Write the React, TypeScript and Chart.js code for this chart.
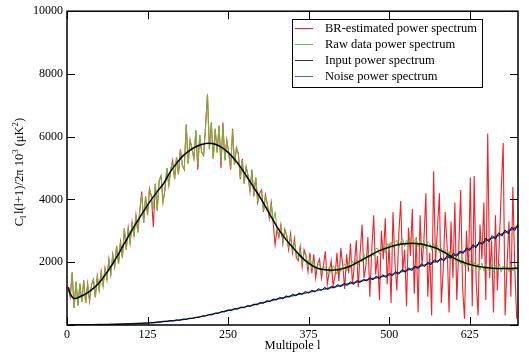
import React, { useEffect, useRef } from 'react';
import { Chart, registerables } from 'chart.js';

Chart.register(...registerables);

// Multipole grid of the noisy spectra: l = L_START + i * L_STEP
const L_START = 2;
const L_STEP = 3;

// Raw data power spectrum (green)
const RAW_DATA = [
  1180, 900, 1640, 560, 1380, 620, 1300, 740, 1420, 700,
  1320, 760, 1280, 1450, 900, 1560, 1100, 1700, 1250, 1820,
  1450, 2100, 1600, 2250, 1850, 2500, 1950, 2650, 2150, 3050,
  2400, 3100, 2600, 3250, 2850, 3500, 2950, 3650, 4150, 3250,
  4100, 3500, 4350, 4100, 3700, 4500, 3650, 4600, 4750, 3900,
  4300, 5000, 4450, 4950, 5200, 4650, 5350, 4800, 5600, 5100,
  4950, 6350, 5150, 5900, 5600, 5300, 6200, 5100, 6050, 5500,
  5400, 6300, 7350, 5600, 6400, 5300, 6250, 5500, 6350, 5200,
  6300, 5250, 5900, 5500, 5000, 6200, 5100, 5650, 5450, 4700,
  5250, 4550, 5050, 4750, 4300, 4900, 4150, 4700, 3950, 4200,
  4250, 3650, 4100, 3850, 3450, 3850, 3300, 3600, 3050, 2850,
  3150, 2650, 3000, 2850, 2450, 2800, 2350, 2650, 2250, 2150,
  2400, 1950, 2300, 2200, 1850, 2150, 1800, 2050, 1750, 1900,
  1950, 1650, 1900, 1800, 1620, 1850, 1650, 1900, 1780, 1620,
  1900, 1700, 1880, 1950, 1720, 2000, 1800, 2050, 1850, 2100,
  1900, 2150, 2000, 2250, 2050, 2300, 2150, 2350, 2200, 2420,
  2450, 2250, 2500, 2550, 2300, 2600, 2400, 2650, 2450, 2620,
  2700, 2450, 2650, 2750, 2500, 2700, 2550, 2780, 2500, 2700,
  2750, 2500, 2700, 2450, 2680, 2420, 2650, 2600, 2380, 2600,
  2350, 2550, 2300, 2450, 2250, 2400, 2150, 2350, 2100, 2250,
  2250, 1980, 2150, 1950, 2120, 1880, 2080, 1850, 2050, 1800,
  2000, 1780, 1950, 1750, 1980, 1720, 1950, 1800, 1700, 1920,
  1700, 1900, 1720, 1950, 1680, 1880, 1760, 1930, 1700, 1870,
  1720, 1900, 1760,
];

// BR-estimated power spectrum (red)
const BR_ESTIMATED = [
  1180, 900, 1680, 540, 1380, 620, 1320, 740, 1420, 700,
  1320, 760, 1280, 1450, 880, 1560, 1100, 1720, 1250, 1820,
  1450, 2100, 1600, 2250, 1850, 2520, 1950, 2650, 2150, 3080,
  2400, 3100, 2600, 3280, 2850, 3500, 2950, 3650, 4250, 3250,
  4100, 3500, 4350, 4100, 3120, 4500, 3650, 4600, 4750, 3900,
  4300, 5000, 4450, 4950, 5250, 4650, 5350, 4800, 5600, 5100,
  4950, 6400, 5150, 5900, 5600, 5300, 6200, 4950, 6050, 5500,
  5400, 6300, 7350, 5600, 6450, 5300, 6250, 5500, 6350, 5000,
  6450, 5250, 5900, 5500, 4950, 6250, 5100, 5650, 5450, 4650,
  5300, 4500, 5050, 4750, 4250, 4950, 4100, 4700, 3900, 4200,
  4300, 3600, 4150, 3850, 3400, 3900, 3250, 2550, 3050, 2800,
  3200, 2600, 3050, 2850, 2400, 2900, 2300, 2750, 2150, 2050,
  2500, 1850, 2400, 2200, 1700, 2300, 1650, 2250, 1500, 1950,
  2100, 1500, 1900, 2350, 1300, 1700, 2050, 1250, 1550, 2300,
  1400, 2450, 1900, 1150, 2250, 1650, 2600, 1300, 1900, 2700,
  1200, 2300, 3200, 1500, 1900, 2800, 900, 2400, 3500, 1600,
  2200, 800, 3000, 2100, 3400, 1300, 2600, 700, 3600, 2000,
  1100, 2900, 3950, 1700, 2400, 600, 3100, 2200, 3700, 1000,
  2800, 400, 3500, 1900, 2700, 4200, 900, 2300, 300, 4900,
  2000, 3100, 4200, 700, 1800, 3600, 2500, 400, 3300, 1500,
  3900, 800, 2400, 4300, 1200, 200, 3000, 1700, 4700, 600,
  4750, 1400, 300, 3200, 2100, 3900, 800, 6100, 1500, 2700,
  400, 3500, 1100, 2600, 4300, 5800, 300, 1900, 3300, 900,
  4400, 1800, 200,
];

// Input power spectrum (black, smooth)
const INPUT_L = [
  2, 5, 10, 15, 20, 30, 40, 50, 60, 70, 80, 90, 100, 110, 120, 130, 140, 150, 160, 170,
  180, 190, 200, 210, 220, 230, 240, 250, 260, 270, 280, 290, 300, 310, 320, 330, 340,
  350, 360, 370, 380, 390, 400, 410, 420, 430, 440, 450, 460, 470, 480, 490, 500, 510,
  520, 530, 540, 550, 560, 570, 580, 590, 600, 610, 620, 630, 640, 650, 660, 670, 680,
  690, 700,
];
const INPUT_C = [
  1206, 1000, 850, 855, 900, 1000, 1150, 1350, 1620, 1920, 2270, 2630, 2990, 3330, 3660,
  3970, 4250, 4510, 4870, 5150, 5390, 5560, 5680, 5760, 5790, 5760, 5660, 5500, 5280,
  5010, 4700, 4380, 4060, 3700, 3340, 3000, 2720, 2480, 2250, 2050, 1900, 1800, 1760,
  1745, 1760, 1810, 1880, 1990, 2100, 2210, 2320, 2410, 2480, 2540, 2580, 2600, 2600,
  2580, 2530, 2470, 2380, 2260, 2140, 2040, 1960, 1900, 1860, 1830, 1810, 1800, 1800,
  1800, 1810,
];

// Noise power spectrum (blue, smooth)
const NOISE_L = [
  0, 25, 50, 75, 100, 125, 150, 175, 200, 225, 250, 275, 300, 325, 350, 375, 400, 425,
  450, 475, 500, 525, 550, 575, 600, 625, 650, 675, 700,
];
const NOISE_C = [
  0, 4, 12, 25, 40, 60, 110, 160, 235, 340, 460, 570, 690, 820, 930, 1040, 1150, 1260,
  1370, 1480, 1590, 1730, 1880, 2040, 2210, 2430, 2680, 2900, 3140,
];

// Noise realisation (black, noisy, not in legend): l = NREAL_START + i * NREAL_STEP
const NREAL_START = 5;
const NREAL_STEP = 5;
const NOISE_REAL = [
  1, 3, 2, 4, 5, 7, 6, 10, 9, 14, 14, 19, 18, 24, 23, 30, 29, 36, 35, 42,
  42, 50, 49, 58, 57, 75, 72, 95, 92, 115, 112, 138, 130, 160, 150, 190, 178, 215, 210, 245,
  245, 290, 285, 335, 325, 380, 370, 430, 420, 480, 460, 520, 505, 575, 550, 620, 590, 665, 640, 720,
  690, 770, 745, 830, 800, 880, 835, 930, 890, 980, 930, 1020, 975, 1070, 1020, 1110, 1050, 1160, 1100, 1200,
  1130, 1230, 1180, 1290, 1220, 1330, 1260, 1380, 1300, 1420, 1350, 1460, 1400, 1510, 1440, 1560, 1470, 1600, 1520, 1650,
  1570, 1700, 1620, 1770, 1680, 1820, 1730, 1880, 1800, 1950, 1860, 2000, 1920, 2080, 1990, 2140, 2040, 2210, 2120, 2290,
  2190, 2360, 2280, 2460, 2370, 2560, 2460, 2650, 2560, 2770, 2650, 2850, 2740, 2940, 2830, 3030, 2900, 3120, 3010, 3220,
];

const X_TICKS = [0, 125, 250, 375, 500, 625];
const Y_TICKS = [0, 2000, 4000, 6000, 8000, 10000];

const LEGEND_LABELS = [
  'BR-estimated power spectrum',
  'Raw data power spectrum',
  'Input power spectrum',
  'Noise power spectrum',
];

const SERIF = "'Liberation Serif', 'Times New Roman', Times, serif";

const COLORS = {
  br: '#f0222a',
  raw: '#6cbb3c',
  input: '#000000',
  noise: '#2c4ca8',
};

const gridPoints = (vals: number[], start: number, step: number) =>
  vals.map((v, i) => ({ x: start + i * step, y: v }));
const pairPoints = (xs: number[], ys: number[]) => xs.map((x, i) => ({ x, y: ys[i] }));

const framePlugin = {
  id: 'framePlugin',
  afterDraw(chart: any) {
    const { ctx, chartArea, scales } = chart;
    const { left, right, top, bottom } = chartArea;
    ctx.save();
    ctx.strokeStyle = '#000';
    ctx.lineWidth = 1;
    // inward ticks
    const tl = 8;
    ctx.beginPath();
    X_TICKS.forEach((v) => {
      const px = Math.round(scales.x.getPixelForValue(v)) + 0.5;
      ctx.moveTo(px, bottom);
      ctx.lineTo(px, bottom - tl);
      ctx.moveTo(px, top);
      ctx.lineTo(px, top + tl);
    });
    Y_TICKS.forEach((v) => {
      const py = Math.round(scales.y.getPixelForValue(v)) + 0.5;
      ctx.moveTo(left, py);
      ctx.lineTo(left + tl, py);
      ctx.moveTo(right, py);
      ctx.lineTo(right - tl, py);
    });
    ctx.stroke();
    // frame
    ctx.lineWidth = 1.5;
    ctx.strokeRect(left, top, right - left, bottom - top);

    // legend
    const lx = 292.5, ly = 19.5, lw = 190, lh = 68;
    ctx.fillStyle = '#fff';
    ctx.fillRect(lx, ly, lw, lh);
    ctx.lineWidth = 1;
    ctx.strokeStyle = '#000';
    ctx.strokeRect(lx, ly, lw, lh);
    const legendColors = [COLORS.br, COLORS.raw, '#333333', '#4a6cc8'];
    ctx.font = `12.5px ${SERIF}`;
    ctx.textBaseline = 'middle';
    ctx.textAlign = 'left';
    LEGEND_LABELS.forEach((lab, i) => {
      const y = 28 + i * 16;
      ctx.strokeStyle = legendColors[i];
      ctx.lineWidth = 1;
      ctx.beginPath();
      ctx.moveTo(295, y + 0.5);
      ctx.lineTo(313, y + 0.5);
      ctx.stroke();
      ctx.fillStyle = '#000';
      ctx.fillText(lab, 325, y + 0.5);
    });

    // x title
    ctx.font = `12.5px ${SERIF}`;
    ctx.textAlign = 'center';
    ctx.textBaseline = 'middle';
    ctx.fillStyle = '#000';
    ctx.fillText('Multipole l', (left + right) / 2, 346);

    // y title with sub/superscripts
    const base = 12.5;
    const parts = [
      { t: 'C', k: 0 },
      { t: 'l', k: 1 },
      { t: 'l(l+1)/2\u03C0 10', k: 0 },
      { t: '3', k: 2 },
      { t: ' (\u03BCK', k: 0 },
      { t: '2', k: 2 },
      { t: ')', k: 0 },
    ];
    const fontFor = (k: number) => `${k === 0 ? base : base * 0.7}px ${SERIF}`;
    let total = 0;
    parts.forEach((p) => {
      ctx.font = fontFor(p.k);
      total += ctx.measureText(p.t).width + (p.k === 1 ? 1.5 : 0);
    });
    ctx.translate(19, (top + bottom) / 2 + 4);
    ctx.rotate(-Math.PI / 2);
    ctx.textAlign = 'left';
    ctx.textBaseline = 'alphabetic';
    let cx = -total / 2;
    parts.forEach((p) => {
      ctx.font = fontFor(p.k);
      const dy = p.k === 1 ? 3 : p.k === 2 ? -5 : 0;
      ctx.fillText(p.t, cx, 4 + dy);
      cx += ctx.measureText(p.t).width + (p.k === 1 ? 1.5 : 0);
    });
    ctx.restore();
  },
};

export default function App() {
  const ref = useRef<HTMLCanvasElement | null>(null);

  useEffect(() => {
    document.body.style.margin = '0';
    const canvas = ref.current;
    if (!canvas) return;
    const chart = new Chart(canvas, {
      type: 'line',
      data: {
        datasets: [
          {
            label: 'Input power spectrum',
            data: pairPoints(INPUT_L, INPUT_C),
            borderColor: COLORS.input,
            borderWidth: 1.5,
            tension: 0.4,
            pointRadius: 0,
            order: 0,
          },
          {
            label: '',
            data: gridPoints(NOISE_REAL, NREAL_START, NREAL_STEP),
            borderColor: '#000000',
            borderWidth: 1,
            tension: 0,
            pointRadius: 0,
            order: 1,
          },
          {
            label: 'Noise power spectrum',
            data: pairPoints(NOISE_L, NOISE_C),
            borderColor: COLORS.noise,
            borderWidth: 1.5,
            tension: 0.4,
            pointRadius: 0,
            order: 2,
          },
          {
            label: 'Raw data power spectrum',
            data: gridPoints(RAW_DATA, L_START, L_STEP),
            borderColor: COLORS.raw,
            borderWidth: 1,
            tension: 0,
            pointRadius: 0,
            order: 3,
          },
          {
            label: 'BR-estimated power spectrum',
            data: gridPoints(BR_ESTIMATED, L_START, L_STEP),
            borderColor: COLORS.br,
            borderWidth: 1.1,
            tension: 0,
            pointRadius: 0,
            order: 4,
          },
        ],
      },
      options: {
        responsive: false,
        animation: false,
        events: [],
        layout: { padding: { left: 0, right: 11, top: 10, bottom: 0 } },
        plugins: {
          legend: { display: false },
          tooltip: { enabled: false },
          title: { display: false },
        },
        scales: {
          x: {
            type: 'linear',
            min: 0,
            max: 700,
            grid: { display: false, drawTicks: false },
            border: { display: false },
            afterBuildTicks: (s: any) => {
              s.ticks = X_TICKS.map((v) => ({ value: v }));
            },
            afterFit: (s: any) => {
              s.height = 28;
            },
            ticks: {
              padding: 3,
              maxRotation: 0,
              autoSkip: false,
              color: '#000',
              font: { family: SERIF, size: 12 },
              callback: (v: any) => String(v),
            },
          },
          y: {
            type: 'linear',
            min: 0,
            max: 10000,
            grid: { display: false, drawTicks: false },
            border: { display: false },
            afterBuildTicks: (s: any) => {
              s.ticks = Y_TICKS.map((v) => ({ value: v }));
            },
            afterFit: (s: any) => {
              s.width = 67;
            },
            ticks: {
              padding: 4,
              autoSkip: false,
              color: '#000',
              font: { family: SERIF, size: 12 },
              callback: (v: any) => (v === 0 ? '' : String(v)),
            },
          },
        },
      },
      plugins: [framePlugin],
    } as any);
    return () => chart.destroy();
  }, []);

  return (
    <div style={{ width: 529, height: 353, background: '#fff' }}>
      <canvas ref={ref} width={529} height={353} style={{ display: 'block' }} />
    </div>
  );
}
